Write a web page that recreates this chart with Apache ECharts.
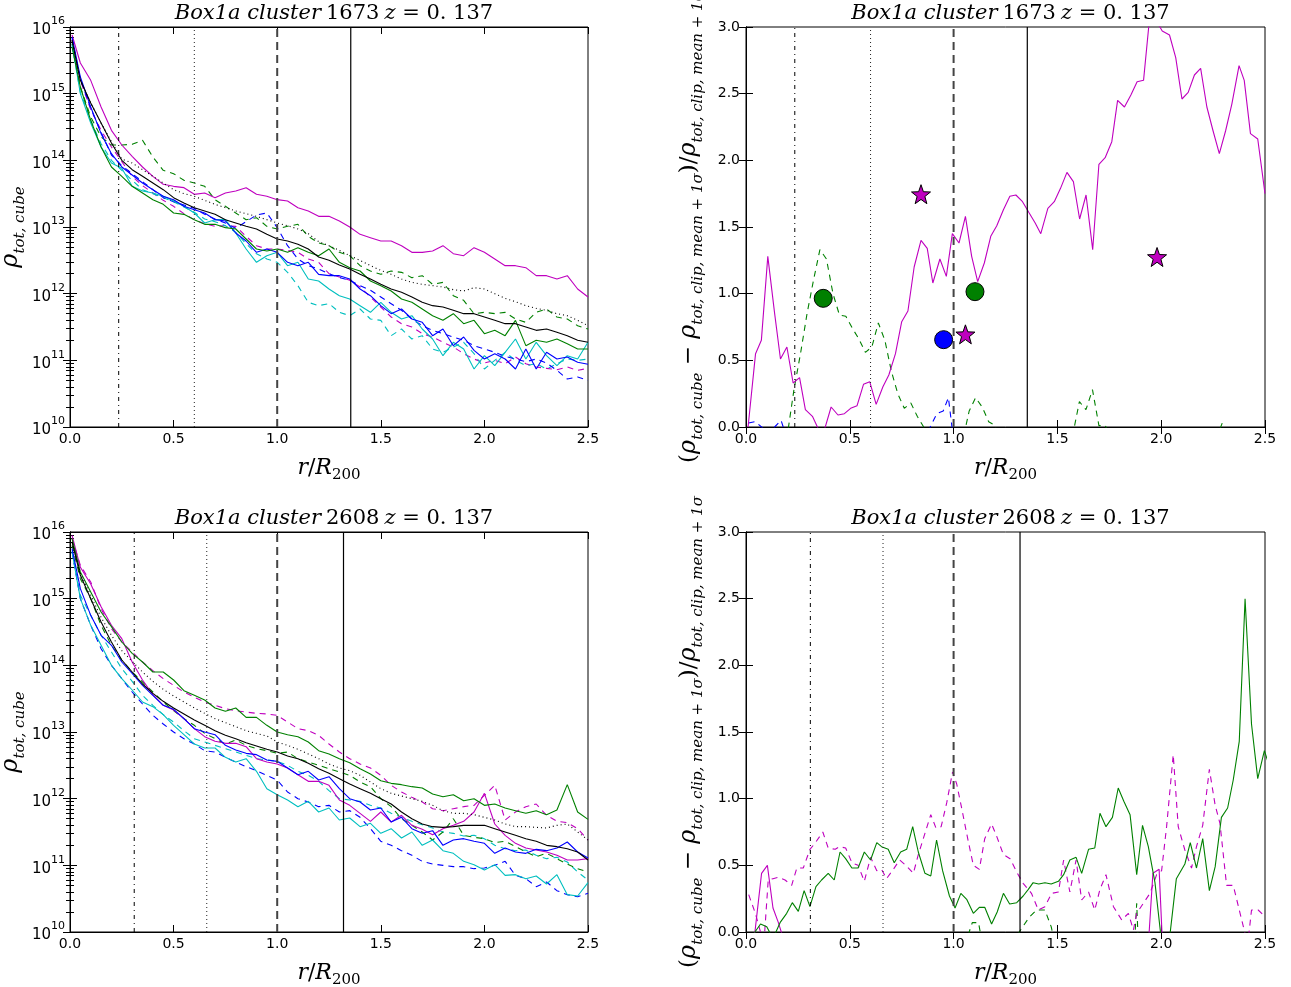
<!DOCTYPE html>
<html style="height: 100%">
<head>
<meta charset="utf-8">
</head>
<body style="height: 100%; margin: 0; background: #fff">
<div id="container" style="width: 1291px; height: 987px"></div>
<script type="text/javascript" src="https://cdn.jsdelivr.net/npm/echarts/dist/echarts.min.js"></script>
<script type="text/javascript">
var dom = document.getElementById("container");
var myChart = echarts.init(dom);

// radial bins of the density profiles (r/R200)
var lx = [0.01,0.05,0.1,0.15,0.2,0.25,0.3,0.35,0.4,0.45,0.5,0.55,0.6,0.65,0.7,0.75,0.8,0.85,0.9,0.95,1.0,1.05,1.1,1.15,1.2,1.25,1.3,1.35,1.4,1.45,1.5,1.55,1.6,1.65,1.7,1.75,1.8,1.85,1.9,1.95,2.0,2.05,2.1,2.15,2.2,2.25,2.3,2.35,2.4,2.45,2.5];

// cluster 1673, log10(rho_tot,cube)
var tlMagS = [15.88,15.46,15.2,14.8,14.45,14.23,14.06,13.9,13.76,13.64,13.61,13.59,13.49,13.51,13.44,13.51,13.54,13.59,13.49,13.46,13.41,13.39,13.29,13.24,13.16,13.16,13.09,13.0,12.89,12.84,12.79,12.79,12.72,12.62,12.62,12.64,12.72,12.6,12.57,12.69,12.62,12.52,12.42,12.42,12.39,12.27,12.27,12.22,12.27,12.07,11.95];
var tlMagD = [15.8,15.2,14.76,14.45,14.2,13.98,13.76,13.62,13.51,13.4,13.31,13.2,13.11,13.05,13.01,13.02,13.01,12.86,12.72,12.67,12.67,12.65,12.62,12.52,12.47,12.3,12.25,12.2,12.1,11.95,11.8,11.65,11.55,11.5,11.4,11.35,11.27,11.2,11.1,11.02,10.96,11.0,10.95,11.05,10.95,10.9,10.88,10.86,10.9,10.85,10.88];
var tlBlkS = [15.8,15.2,14.86,14.56,14.26,14.0,13.86,13.76,13.66,13.56,13.44,13.36,13.29,13.24,13.19,13.11,13.06,13.01,12.97,12.89,12.82,12.79,12.74,12.67,12.55,12.5,12.43,12.37,12.29,12.22,12.14,12.07,12.02,11.95,11.87,11.82,11.8,11.75,11.7,11.7,11.65,11.6,11.55,11.55,11.5,11.45,11.47,11.42,11.37,11.3,11.27];
var tlBlkD = [15.8,15.2,14.86,14.56,14.28,14.02,13.96,13.86,13.76,13.66,13.56,13.5,13.46,13.4,13.34,13.29,13.24,13.2,13.16,13.11,13.06,13.02,12.97,12.9,12.78,12.72,12.65,12.57,12.5,12.42,12.35,12.29,12.22,12.17,12.14,12.12,12.1,12.06,12.04,12.09,12.07,12.0,11.93,11.88,11.82,11.78,11.75,11.7,11.67,11.6,11.52];
var tlGrnS = [15.7,15.1,14.6,14.2,13.9,13.76,13.61,13.51,13.41,13.34,13.21,13.19,13.11,13.04,13.04,12.99,12.97,12.82,12.67,12.64,12.67,12.62,12.69,12.62,12.57,12.67,12.47,12.39,12.34,12.19,12.12,12.04,11.92,11.87,11.77,11.67,11.6,11.7,11.55,11.6,11.4,11.45,11.37,11.6,11.22,11.3,11.27,11.32,11.25,11.17,11.17];
var tlGrnD = [15.75,15.1,14.65,14.35,14.23,14.23,14.24,14.3,14.05,13.85,13.8,13.7,13.66,13.61,13.41,13.31,13.21,13.11,13.14,13.01,12.97,13.01,13.04,12.86,12.76,12.72,12.62,12.57,12.42,12.34,12.29,12.34,12.32,12.24,12.27,12.14,12.17,11.97,11.9,11.7,11.72,11.7,11.72,11.62,11.57,11.72,11.77,11.65,11.62,11.52,11.47];
var tlBluS = [15.85,15.25,14.8,14.4,14.1,13.9,13.78,13.66,13.56,13.46,13.41,13.31,13.26,13.21,13.11,13.09,12.91,12.79,12.62,12.67,12.62,12.47,12.42,12.47,12.29,12.27,12.27,12.22,12.07,11.97,11.82,11.7,11.77,11.62,11.57,11.37,11.47,11.22,11.35,11.15,11.02,11.1,11.02,10.87,11.17,10.87,11.12,11.02,11.05,10.97,10.94];
var tlBluD = [15.83,15.22,14.78,14.42,14.08,13.92,13.8,13.68,13.56,13.44,13.38,13.33,13.28,13.19,13.12,13.06,12.98,13.08,13.18,13.21,12.99,12.72,12.52,12.42,12.37,12.3,12.24,12.2,12.12,12.05,11.95,11.85,11.75,11.62,11.52,11.45,11.4,11.35,11.3,11.22,11.17,11.12,11.06,11.02,10.98,11.02,10.96,10.85,10.72,10.75,10.7];
var tlCyaS = [15.75,15.0,14.56,14.2,13.96,13.88,13.61,13.54,13.51,13.46,13.39,13.31,13.21,13.06,13.11,13.11,12.91,12.67,12.47,12.57,12.62,12.42,12.47,12.22,12.19,12.07,11.97,11.92,11.82,11.72,11.87,11.72,11.62,11.67,11.47,11.32,11.07,11.27,11.17,10.87,11.07,10.92,11.12,11.32,11.02,11.27,11.07,10.92,11.07,11.02,11.27];
var tlCyaD = [15.72,15.02,14.6,14.25,14.0,13.85,13.7,13.56,13.5,13.44,13.38,13.3,13.22,13.12,13.08,13.02,12.92,12.75,12.6,12.52,12.47,12.32,12.12,11.87,11.82,11.85,11.72,11.67,11.77,11.62,11.6,11.37,11.47,11.32,11.37,11.17,11.12,11.2,11.27,11.1,10.87,11.0,11.12,11.0,10.92,10.95,10.87,10.95,11.02,11.0,11.02];

// cluster 2608, log10(rho_tot,cube)
var blMagS = [15.95,15.47,15.22,14.88,14.6,14.4,14.05,13.78,13.56,13.4,13.33,13.2,13.05,12.93,12.86,12.83,12.83,12.78,12.6,12.55,12.52,12.46,12.36,12.26,12.26,12.2,11.98,11.9,11.78,11.66,11.8,11.65,11.75,11.6,11.54,11.46,11.55,11.6,11.66,11.8,12.08,11.62,11.45,11.33,11.26,11.23,11.2,11.15,11.08,11.08,11.1];
var blMagD = [15.9,15.5,15.25,14.85,14.55,14.35,14.2,14.05,13.92,13.8,13.7,13.6,13.52,13.45,13.4,13.35,13.32,13.3,13.28,13.27,13.25,13.15,13.05,13.02,12.95,12.82,12.7,12.6,12.52,12.46,12.35,12.2,12.1,12.02,11.95,11.85,11.82,11.85,11.88,11.9,12.05,12.2,11.68,11.8,11.88,11.92,11.75,11.66,11.64,11.55,11.38];
var blBlkS = [15.85,15.35,15.0,14.65,14.35,14.08,13.9,13.72,13.58,13.46,13.36,13.27,13.18,13.1,13.02,12.95,12.9,12.84,12.79,12.74,12.7,12.64,12.6,12.53,12.45,12.38,12.3,12.22,12.15,12.08,12.0,11.92,11.8,11.7,11.62,11.58,11.57,11.58,11.6,11.6,11.6,11.55,11.5,11.45,11.4,11.36,11.3,11.28,11.25,11.2,11.08];
var blBlkD = [15.85,15.38,15.05,14.72,14.45,14.22,14.06,13.9,13.76,13.64,13.54,13.45,13.36,13.28,13.2,13.14,13.08,13.02,12.98,12.94,12.85,12.8,12.74,12.67,12.6,12.52,12.46,12.42,12.35,12.25,12.15,12.08,12.04,12.0,11.96,11.9,11.82,11.78,11.78,11.76,11.72,11.68,11.62,11.58,11.58,11.57,11.56,11.6,11.62,11.5,11.38];
var blGrnS = [15.9,15.4,15.1,14.8,14.58,14.35,14.18,14.05,13.9,13.9,13.78,13.62,13.55,13.48,13.36,13.31,13.36,13.22,13.22,13.1,13.0,12.96,12.93,12.85,12.72,12.67,12.6,12.54,12.45,12.37,12.27,12.23,12.21,12.18,12.16,12.07,12.03,12.06,11.97,12.0,11.9,11.92,11.86,11.82,11.78,11.82,11.76,11.83,12.21,11.8,11.69];
var blGrnD = [15.8,15.3,15.0,14.6,14.3,14.08,13.9,13.75,13.6,13.45,13.32,13.2,13.1,12.98,12.9,12.82,12.88,12.8,12.75,12.72,12.68,12.7,12.6,12.55,12.5,12.45,12.4,12.35,12.25,12.18,12.0,11.88,11.7,11.6,11.5,11.38,11.5,11.7,11.45,11.42,11.4,11.34,11.36,11.28,11.2,11.13,11.18,11.1,11.02,10.95,10.9];
var blBluS = [15.75,15.15,14.75,14.45,14.3,14.05,13.88,13.7,13.55,13.4,13.34,13.2,13.05,13.0,12.96,12.8,12.73,12.68,12.66,12.58,12.56,12.46,12.36,12.41,12.28,12.33,12.15,12.0,11.95,11.83,11.86,11.65,11.72,11.55,11.48,11.52,11.3,11.38,11.4,11.36,11.33,11.18,11.26,11.2,11.18,11.24,11.22,11.26,11.35,11.2,11.11];
var blBluD = [15.7,15.0,14.6,14.25,14.0,13.8,13.6,13.42,13.25,13.12,13.0,12.9,12.82,12.72,12.7,12.62,12.55,12.48,12.42,12.35,12.28,12.1,12.0,11.95,11.88,11.9,11.8,11.82,11.72,11.55,11.36,11.3,11.22,11.15,11.06,11.02,11.0,10.98,10.98,10.95,10.96,11.0,11.06,10.85,10.8,10.68,10.75,10.62,10.56,10.53,10.58];
var blCyaS = [15.7,15.0,14.6,14.3,14.0,13.8,13.63,13.45,13.38,13.26,13.1,12.96,12.82,12.76,12.76,12.62,12.55,12.6,12.41,12.15,12.06,11.98,11.88,11.96,11.8,11.86,11.68,11.71,11.58,11.63,11.48,11.55,11.41,11.5,11.3,11.38,11.22,11.18,11.06,11.01,10.93,11.01,10.85,10.86,10.8,10.84,10.72,10.86,10.56,10.54,10.74];
var blCyaD = [15.72,15.05,14.75,14.45,14.2,13.95,13.76,13.55,13.4,13.26,13.15,13.02,12.9,12.85,12.8,12.75,12.7,12.65,12.6,12.58,12.56,12.5,12.41,12.35,12.26,12.12,12.0,11.98,11.96,11.9,11.86,11.78,11.72,11.66,11.61,11.56,11.5,11.48,11.44,11.45,11.4,11.3,11.25,11.22,11.23,11.15,11.1,11.12,11.05,10.9,10.78];

// excess over clipped mean + 1 sigma, [r/R200, value]
var trMagS = [[0.01,0],[0.046,0.55],[0.074,0.65],[0.105,1.28],[0.138,0.85],[0.166,0.51],[0.197,0.6],[0.227,0.33],[0.258,0.37],[0.286,0.13],[0.32,0.08],[0.35,-0.02],[0.378,-0.02],[0.41,0.15],[0.443,0.09],[0.474,0.1],[0.504,0.14],[0.535,0.16],[0.566,0.32],[0.596,0.34],[0.627,0.17],[0.659,0.3],[0.688,0.39],[0.72,0.55],[0.75,0.79],[0.78,0.87],[0.81,1.2],[0.843,1.4],[0.873,1.34],[0.9,1.08],[0.934,1.26],[0.965,1.13],[0.994,1.45],[1.026,1.38],[1.057,1.58],[1.087,1.28],[1.116,1.09],[1.148,1.23],[1.179,1.43],[1.208,1.51],[1.24,1.63],[1.271,1.73],[1.3,1.74],[1.332,1.69],[1.362,1.61],[1.393,1.53],[1.42,1.45],[1.454,1.64],[1.485,1.69],[1.515,1.79],[1.546,1.91],[1.577,1.84],[1.607,1.56],[1.638,1.74],[1.67,1.33],[1.7,1.97],[1.73,2.02],[1.762,2.14],[1.79,2.45],[1.823,2.4],[1.854,2.49],[1.884,2.59],[1.915,2.6],[1.946,3.1],[1.975,3.05],[2.005,2.97],[2.04,2.94],[2.07,2.77],[2.1,2.46],[2.13,2.51],[2.16,2.64],[2.19,2.69],[2.22,2.4],[2.25,2.22],[2.28,2.05],[2.31,2.22],[2.34,2.42],[2.375,2.71],[2.4,2.6],[2.43,2.2],[2.465,2.16],[2.5,1.75]];
var trGrnD = [[0.0125,-0.4],[0.2,-0.05],[0.231,0.28],[0.2625,0.55],[0.294,0.85],[0.325,1.1],[0.356,1.33],[0.3875,1.26],[0.419,1.0],[0.45,0.84],[0.481,0.83],[0.5125,0.74],[0.544,0.66],[0.575,0.56],[0.606,0.6],[0.6375,0.78],[0.669,0.65],[0.7,0.42],[0.731,0.25],[0.7625,0.14],[0.794,0.18],[0.825,0.08],[0.856,0.0],[0.8875,-0.1],[0.95,-0.3],[1.044,-0.1],[1.075,0.12],[1.106,0.22],[1.1375,0.15],[1.169,0.04],[1.2,0.01],[1.231,-0.2],[1.544,-0.2],[1.575,-0.05],[1.606,0.19],[1.6375,0.13],[1.669,0.28],[1.7,0.01],[1.731,0.01],[1.7625,-0.1],[2.2625,-0.1],[2.294,0.03],[2.325,-0.2],[2.5,-0.3]];
var trBluD = [[0.0125,0.03],[0.044,0.04],[0.075,0.0],[0.106,-0.05],[0.138,0.0],[0.169,0.05],[0.2,-0.1],[0.25,-0.3],[0.85,-0.3],[0.8875,0.0],[0.919,0.1],[0.95,0.12],[0.975,0.22],[1.0,-0.1],[1.05,-0.3],[2.5,-0.3]];
var trGreenDots = [[0.372,0.965],[1.103,1.015]];
var trBlueDots = [[0.952,0.655]];
var trStars = [[0.843,1.746],[1.057,0.695],[1.98,1.275]];

var brGrnS = [[0.019,-0.05],[0.043,0.0],[0.07,0.06],[0.1,0.04],[0.13,-0.05],[0.164,0.07],[0.196,0.14],[0.223,0.22],[0.252,0.155],[0.28,0.31],[0.308,0.19],[0.337,0.34],[0.364,0.39],[0.396,0.44],[0.425,0.39],[0.453,0.6],[0.48,0.55],[0.51,0.48],[0.54,0.48],[0.57,0.6],[0.6,0.54],[0.63,0.67],[0.653,0.64],[0.685,0.62],[0.714,0.52],[0.745,0.6],[0.774,0.62],[0.803,0.79],[0.83,0.6],[0.862,0.44],[0.89,0.42],[0.918,0.69],[0.947,0.46],[0.98,0.27],[1.007,0.18],[1.035,0.29],[1.063,0.245],[1.095,0.14],[1.124,0.185],[1.15,0.185],[1.183,0.06],[1.21,0.15],[1.24,0.29],[1.27,0.21],[1.304,0.22],[1.335,0.27],[1.36,0.32],[1.383,0.37],[1.41,0.36],[1.44,0.37],[1.47,0.36],[1.505,0.38],[1.53,0.43],[1.56,0.54],[1.59,0.56],[1.617,0.44],[1.65,0.62],[1.68,0.63],[1.705,0.89],[1.734,0.79],[1.765,0.86],[1.793,1.08],[1.82,0.98],[1.85,0.88],[1.882,0.43],[1.91,0.8],[1.938,0.64],[1.97,0.37],[2.0,-0.05],[2.04,-0.05],[2.073,0.4],[2.114,0.51],[2.14,0.67],[2.17,0.48],[2.2,0.7],[2.232,0.31],[2.26,0.49],[2.29,0.86],[2.32,0.93],[2.347,1.14],[2.376,1.43],[2.404,2.5],[2.435,1.56],[2.465,1.15],[2.497,1.36],[2.52,1.25]];
var brMagS = [[0.02,-0.1],[0.043,0.0],[0.075,0.44],[0.103,0.5],[0.13,0.18],[0.156,0.07],[0.18,-0.05],[0.2,-0.3],[1.9,-0.3],[1.94,-0.05],[1.96,0.44],[1.99,0.47],[2.005,-0.05],[2.04,-0.3],[2.5,-0.3]];
var brMagD = [[0.013,0.28],[0.045,0.14],[0.07,0.0],[0.09,0.0],[0.107,0.39],[0.13,0.4],[0.156,0.41],[0.188,0.39],[0.22,0.35],[0.245,0.48],[0.276,0.48],[0.308,0.62],[0.332,0.665],[0.37,0.75],[0.396,0.63],[0.43,0.62],[0.45,0.64],[0.48,0.63],[0.51,0.52],[0.54,0.5],[0.57,0.38],[0.6,0.56],[0.63,0.46],[0.653,0.47],[0.677,0.4],[0.71,0.47],[0.74,0.54],[0.77,0.5],[0.806,0.44],[0.83,0.58],[0.86,0.73],[0.89,0.88],[0.915,0.78],[0.94,0.79],[0.967,0.97],[0.995,1.2],[1.015,1.11],[1.04,0.92],[1.068,0.7],[1.095,0.5],[1.124,0.47],[1.15,0.7],[1.183,0.81],[1.207,0.72],[1.24,0.58],[1.272,0.55],[1.304,0.45],[1.335,0.365],[1.375,0.29],[1.408,0.165],[1.44,0.19],[1.472,0.29],[1.505,0.3],[1.53,0.54],[1.56,0.3],[1.59,0.54],[1.617,0.24],[1.65,0.3],[1.68,0.165],[1.705,0.32],[1.734,0.43],[1.77,0.19],[1.81,0.09],[1.842,0.14],[1.866,0.015],[1.882,0.14],[1.914,0.215],[1.946,0.29],[1.978,0.43],[2.002,0.46],[2.026,0.79],[2.058,1.33],[2.082,0.79],[2.114,0.615],[2.146,0.48],[2.17,0.64],[2.2,0.8],[2.232,1.22],[2.26,0.95],[2.283,0.815],[2.315,0.35],[2.347,0.35],[2.38,0.14],[2.41,-0.05],[2.42,-0.05],[2.435,0.165],[2.467,0.165],[2.5,0.115]];
var brGrnD = [[0.0125,-0.4],[1.05,-0.3],[1.075,0.0],[1.09,0.07],[1.12,0.07],[1.14,-0.1],[1.29,-0.3],[1.316,0.0],[1.364,0.11],[1.4,0.165],[1.44,0.165],[1.47,0.04],[1.49,-0.1],[1.85,-0.3],[1.875,0.015],[1.882,0.215],[1.89,-0.1],[1.92,-0.3],[2.5,-0.3]];

// reference radii (dash-dot, dotted, dashed, solid)
var topVlines = [0.235, 0.6, 1.0, 1.355];
var botVlines = [0.31, 0.66, 1.0, 1.32];

var titles = ['1673', '1673', '2608', '2608'];

var C = {k: '#000000', g: '#008000', b: '#0000ff', c: '#00bfbf', m: '#bf00bf'};
var DASH = [6, 5];
var tickFont = {fontFamily: 'DejaVu Sans', fontSize: 14, color: '#000'};
var mathFont = 'DejaVu Serif';

var grids = [
    {left: 70, top: 27, width: 518, height: 400},
    {left: 746, top: 27, width: 519, height: 400},
    {left: 70, top: 532, width: 518, height: 400},
    {left: 746, top: 532, width: 519, height: 400}
];

var xAxes = [], yAxes = [];
grids.forEach(function (g, gi) {
    var isLog = (gi % 2 === 0);
    xAxes.push({
        gridIndex: gi, type: 'value', position: 'bottom', min: 0, max: 2.5, interval: 0.5,
        axisLine: {lineStyle: {color: '#000', width: 1}},
        axisTick: {inside: true, length: 7, lineStyle: {color: '#000'}},
        axisLabel: Object.assign({margin: 5, formatter: function (v) { return v.toFixed(1); }}, tickFont),
        splitLine: {show: false},
        name: '{i|r}{n|/}{i|R}{s|200}', nameLocation: 'middle', nameGap: 26,
        nameTextStyle: {rich: {
            i: {fontFamily: mathFont, fontStyle: 'italic', fontSize: 22, lineHeight: 30, verticalAlign: 'middle', color: '#000'},
            n: {fontFamily: mathFont, fontSize: 22, lineHeight: 30, verticalAlign: 'middle', color: '#000'},
            s: {fontFamily: mathFont, fontSize: 15, lineHeight: 22, verticalAlign: 'bottom', color: '#000'}
        }}
    });
    xAxes.push({
        gridIndex: gi, type: 'value', position: 'top', min: 0, max: 2.5, interval: 0.5,
        axisLine: {lineStyle: {color: '#000', width: 1}},
        axisTick: {inside: true, length: 7, lineStyle: {color: '#000'}},
        axisLabel: {show: false}, splitLine: {show: false}
    });
    var subRich = {
        p: {fontFamily: mathFont, fontSize: 23, lineHeight: 34, verticalAlign: 'middle', color: '#000'},
        r: {fontFamily: mathFont, fontStyle: 'italic', fontSize: 24, lineHeight: 34, verticalAlign: 'middle', color: '#000'},
        s: {fontFamily: mathFont, fontStyle: 'italic', fontSize: 15, lineHeight: 24, verticalAlign: 'bottom', color: '#000'}
    };
    var logMinor = {show: true, splitNumber: 9, length: 4, lineStyle: {color: '#000', width: 1}};
    if (isLog) {
        yAxes.push({
            gridIndex: gi, type: 'log', logBase: 10, min: 1e10, max: 1e16, position: 'left',
            axisLine: {lineStyle: {color: '#000', width: 1}},
            axisTick: {inside: true, length: 7, lineStyle: {color: '#000'}},
            minorTick: logMinor,
            axisLabel: {
                margin: 5,
                formatter: function (v) { return '{b|10}{e|' + Math.round(Math.log10(v)) + '}'; },
                rich: {
                    b: {fontFamily: 'DejaVu Sans', fontSize: 15, lineHeight: 22, verticalAlign: 'bottom', color: '#000'},
                    e: {fontFamily: 'DejaVu Sans', fontSize: 11, lineHeight: 22, verticalAlign: 'top', color: '#000'}
                }
            },
            splitLine: {show: false}, minorSplitLine: {show: false},
            name: '{r|ρ}{s|tot, cube}', nameLocation: 'middle', nameGap: 37, nameRotate: 90,
            nameTextStyle: {rich: subRich}
        });
        yAxes.push({
            gridIndex: gi, type: 'log', logBase: 10, min: 1e10, max: 1e16, position: 'right',
            axisLine: {lineStyle: {color: '#000', width: 1}},
            axisTick: {inside: true, length: 7, lineStyle: {color: '#000'}},
            minorTick: logMinor,
            axisLabel: {show: false}, splitLine: {show: false}, minorSplitLine: {show: false}
        });
    } else {
        yAxes.push({
            gridIndex: gi, type: 'value', min: 0, max: 3, interval: 0.5, position: 'left',
            axisLine: {lineStyle: {color: '#000', width: 1}},
            axisTick: {inside: true, length: 7, lineStyle: {color: '#000'}},
            axisLabel: Object.assign({margin: 6, formatter: function (v) { return v.toFixed(1); }}, tickFont),
            splitLine: {show: false},
            name: '{p|(}{r|ρ}{s|tot, cube}{p| − }{r|ρ}{s|tot, clip, mean + 1σ}{p|)/}{r|ρ}{s|tot, clip, mean + 1σ}',
            nameLocation: 'middle', nameGap: 40, nameRotate: 90,
            nameTextStyle: {rich: subRich}
        });
        yAxes.push({
            gridIndex: gi, type: 'value', min: 0, max: 3, interval: 0.5, position: 'right',
            axisLine: {lineStyle: {color: '#000', width: 1}},
            axisTick: {inside: true, length: 7, lineStyle: {color: '#000'}},
            axisLabel: {show: false}, splitLine: {show: false}
        });
    }
});

function mkLine(gi, data, color, dash, w) {
    return {
        type: 'line', xAxisIndex: 2 * gi, yAxisIndex: 2 * gi, data: data,
        symbol: 'none', showSymbol: false, silent: true, clip: true,
        lineStyle: {color: color, width: w || 1.1, type: dash || 'solid'},
        itemStyle: {color: color}, z: 2
    };
}
function logData(arr) {
    return arr.map(function (v, i) { return [lx[i], Math.pow(10, v)]; });
}

var vStyles = [
    {type: [4, 4, 1, 4], color: '#000', width: 1},
    {type: [1, 3], color: '#222', width: 1},
    {type: [8, 5], color: '#444', width: 2},
    {type: 'solid', color: '#000', width: 1.2}
];
function vlines(gi, xs, y0, y1) {
    return xs.map(function (x, k) {
        var s = mkLine(gi, [[x, y0], [x, y1]], vStyles[k].color, vStyles[k].type, vStyles[k].width);
        s.z = 3;
        return s;
    });
}

var series = [];
function profilePanel(gi, set) {
    series.push(mkLine(gi, logData(set.magD), C.m, DASH));
    series.push(mkLine(gi, logData(set.cyaD), C.c, DASH));
    series.push(mkLine(gi, logData(set.bluD), C.b, DASH));
    series.push(mkLine(gi, logData(set.grnD), C.g, DASH));
    series.push(mkLine(gi, logData(set.magS), C.m));
    series.push(mkLine(gi, logData(set.cyaS), C.c));
    series.push(mkLine(gi, logData(set.bluS), C.b));
    series.push(mkLine(gi, logData(set.grnS), C.g));
    series.push(mkLine(gi, logData(set.blkD), C.k, [1, 3]));
    series.push(mkLine(gi, logData(set.blkS), C.k));
}
profilePanel(0, {magS: tlMagS, magD: tlMagD, blkS: tlBlkS, blkD: tlBlkD, grnS: tlGrnS, grnD: tlGrnD, bluS: tlBluS, bluD: tlBluD, cyaS: tlCyaS, cyaD: tlCyaD});
profilePanel(2, {magS: blMagS, magD: blMagD, blkS: blBlkS, blkD: blBlkD, grnS: blGrnS, grnD: blGrnD, bluS: blBluS, bluD: blBluD, cyaS: blCyaS, cyaD: blCyaD});
series = series.concat(vlines(0, topVlines, 1e10, 1e16), vlines(2, botVlines, 1e10, 1e16));

series.push(mkLine(1, trGrnD, C.g, DASH));
series.push(mkLine(1, trBluD, C.b, DASH));
series.push(mkLine(1, trMagS, C.m));
series = series.concat(vlines(1, topVlines, 0, 3));
series.push({type: 'scatter', xAxisIndex: 2, yAxisIndex: 2, data: trGreenDots, symbol: 'circle', symbolSize: 18,
    itemStyle: {color: C.g, borderColor: '#000', borderWidth: 1, opacity: 1}, z: 5, silent: true});
series.push({type: 'scatter', xAxisIndex: 2, yAxisIndex: 2, data: trBlueDots, symbol: 'circle', symbolSize: 18,
    itemStyle: {color: C.b, borderColor: '#000', borderWidth: 1, opacity: 1}, z: 5, silent: true});
series.push({type: 'scatter', xAxisIndex: 2, yAxisIndex: 2, data: trStars,
    symbol: 'path://M12,0.5 L14.9,8.6 L23.5,8.9 L16.7,14.1 L19.1,22.4 L12,17.5 L4.9,22.4 L7.3,14.1 L0.5,8.9 L9.1,8.6 Z',
    symbolSize: 19, itemStyle: {color: C.m, borderColor: '#000', borderWidth: 1, opacity: 1}, z: 5, silent: true});

series.push(mkLine(3, brGrnD, C.g, DASH));
series.push(mkLine(3, brMagD, C.m, DASH));
series.push(mkLine(3, brMagS, C.m));
series.push(mkLine(3, brGrnS, C.g));
series = series.concat(vlines(3, botVlines, 0, 3));

var titleOpts = grids.map(function (g, gi) {
    return {
        text: '{i|Box1a cluster} {n|' + titles[gi] + '} {i|z}{n| = 0. 137}',
        left: g.left + g.width / 2, top: g.top - 29, textAlign: 'center',
        textStyle: {fontWeight: 'normal', rich: {
            i: {fontFamily: mathFont, fontStyle: 'italic', fontWeight: 'normal', fontSize: 21, color: '#000'},
            n: {fontFamily: mathFont, fontWeight: 'normal', fontSize: 21, color: '#000'}
        }}
    };
});

option = {
    backgroundColor: '#fff',
    animation: false,
    title: titleOpts,
    grid: grids.map(function (g) {
        return Object.assign({show: true, borderColor: '#000', borderWidth: 1, backgroundColor: 'transparent',
            containLabel: false, outerBoundsMode: 'none'}, g);
    }),
    xAxis: xAxes,
    yAxis: yAxes,
    series: series
};

if (option && typeof option === "object") {
    myChart.setOption(option, true);
}
</script>
</body>
</html>
